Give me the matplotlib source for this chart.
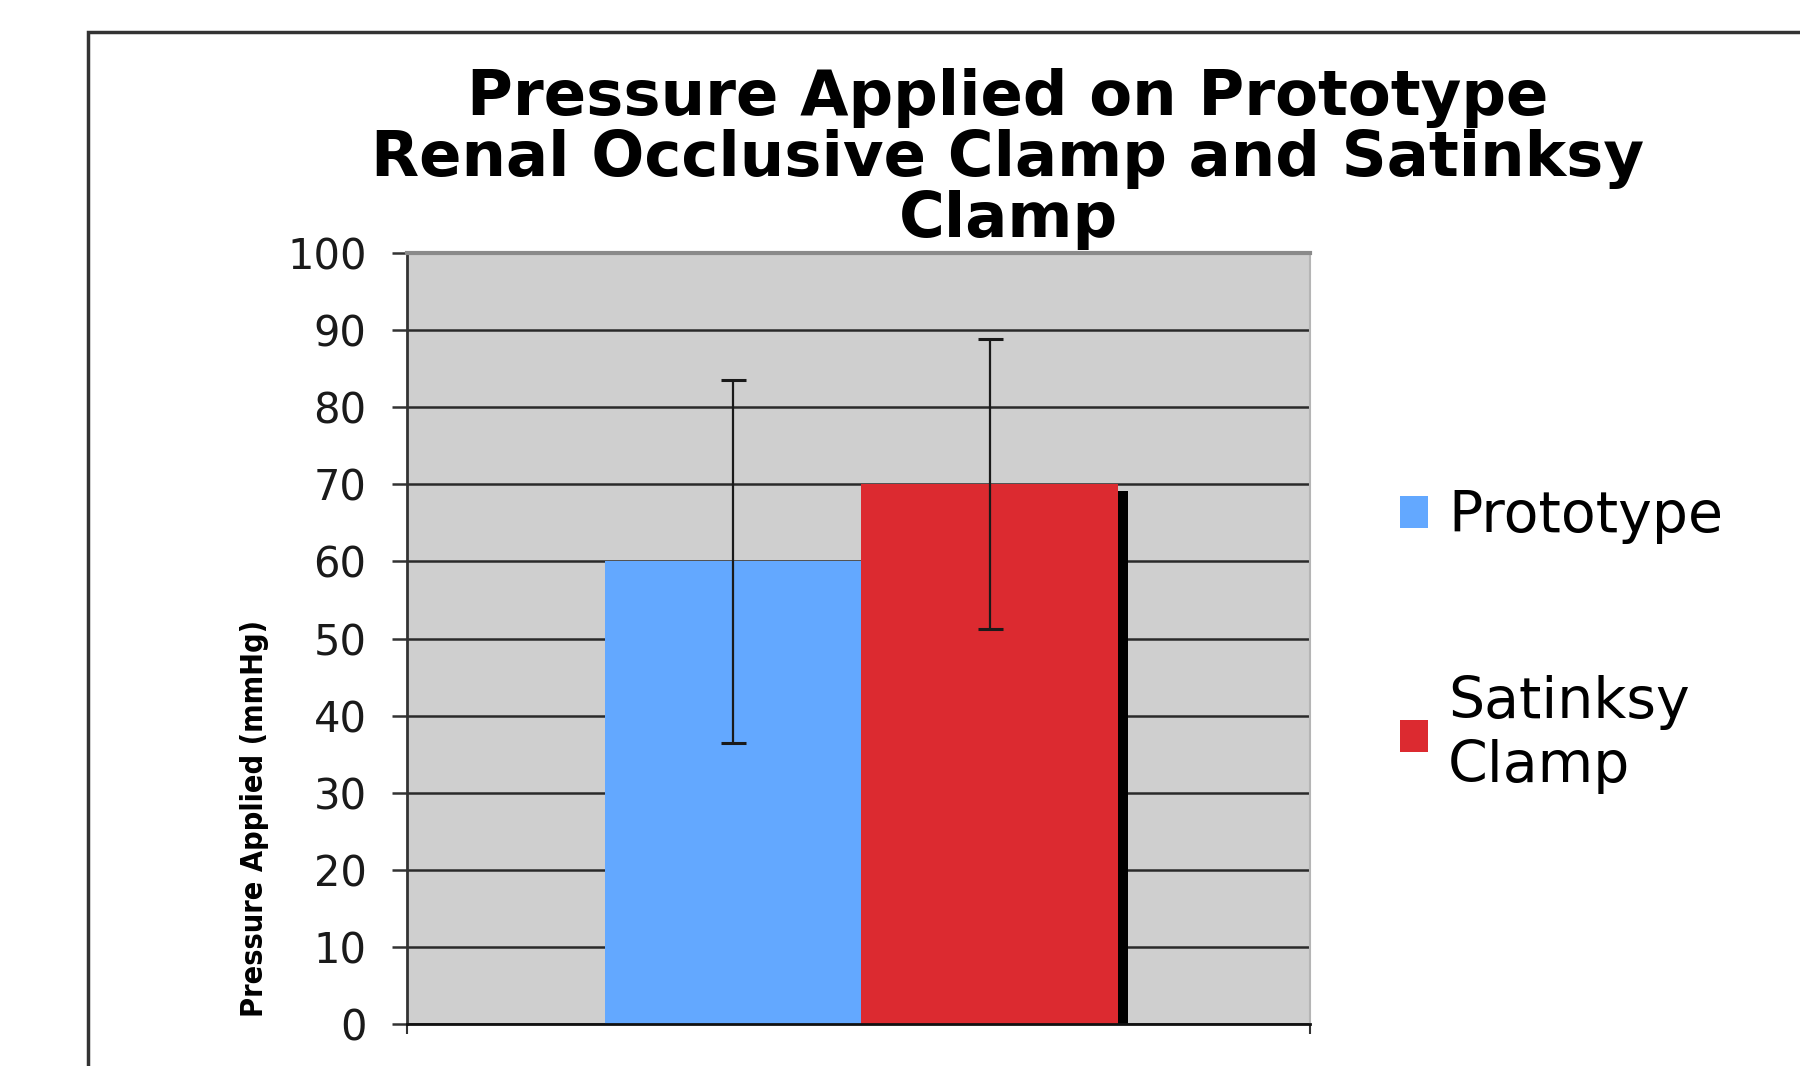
import matplotlib
matplotlib.use("Agg")
import matplotlib.pyplot as plt
import matplotlib.patheffects as pe
from matplotlib.patches import Rectangle

series = ["Prototype", "Satinksy\nClamp"]
means = [60, 70]
errors = [23.5, 18.8]
colors = ["#63A8FF", "#DC2A30"]
yticks = [0, 10, 20, 30, 40, 50, 60, 70, 80, 90, 100]

fig = plt.figure(figsize=(18, 10.66), dpi=100)
ax = fig.add_axes([0.226, 0.039, 0.502, 0.724])
ax.set_facecolor("#CFCFCF")

width = 0.284
offsets = [-width / 2, width / 2]
bars = []
for name, m, e, c, off in zip(series, means, errors, colors, offsets):
    b = ax.bar(0.503 + off, m, width=width, color=c, label=name, zorder=2)
    ax.errorbar(0.503 + off, m, yerr=e, fmt="none", ecolor="#1a1a1a",
                elinewidth=1.6, capsize=9, capthick=2.2, zorder=3)
    bars.append(b)

ax.set_xlim(0, 1)
ax.set_ylim(0, 100)
ax.set_yticks(yticks)
ax.yaxis.grid(True, color="#2a2a2a", linewidth=1.8, zorder=1)
ax.set_axisbelow(True)
ax.set_xticks([0, 1])
ax.set_xticklabels([])
ax.tick_params(axis="y", direction="out", length=11, width=1.8, color="#333333",
               labelsize=30, pad=18, labelcolor="#1a1a1a")
ax.tick_params(axis="x", direction="out", length=7, width=1.5, color="#333333")

ax.spines["left"].set_color("#333333")
ax.spines["left"].set_linewidth(2)
ax.spines["bottom"].set_color("#111111")
ax.spines["bottom"].set_linewidth(2)
ax.spines["top"].set_color("#8a8a8a")
ax.spines["top"].set_linewidth(3)
ax.spines["right"].set_color("#b5b5b5")
ax.spines["right"].set_linewidth(1.5)

ax.set_ylabel("Pressure Applied (mmHg)", fontsize=22, fontweight="heavy",
              fontstretch="condensed", family="DejaVu Sans")
ax.yaxis.set_label_coords(-0.152, 0.267)

fig.text(0.56, 0.936, "Pressure Applied on Prototype\nRenal Occlusive Clamp and Satinksy\nClamp",
         ha="center", va="top", fontsize=45, fontweight="bold", linespacing=1.02)

leg = ax.legend(loc="center left", bbox_to_anchor=(1.042, 0.496), frameon=False,
                fontsize=41, handlelength=0.5, handleheight=0.5, handletextpad=0.35,
                labelspacing=2.3)

# dark shadow on the right side of the red bar (added after the legend so the key stays plain)
for p in bars[1]:
    p.set_path_effects([pe.SimplePatchShadow(offset=(7, -5), shadow_rgbFace="black", alpha=1.0),
                        pe.Normal()])

# outer chart frame
fig.add_artist(Rectangle((88 / 1800, -0.2), 1.2, 1.17, transform=fig.transFigure,
                         fill=False, edgecolor="#333333", linewidth=2.5))

fig.savefig("out.png", dpi=100)
